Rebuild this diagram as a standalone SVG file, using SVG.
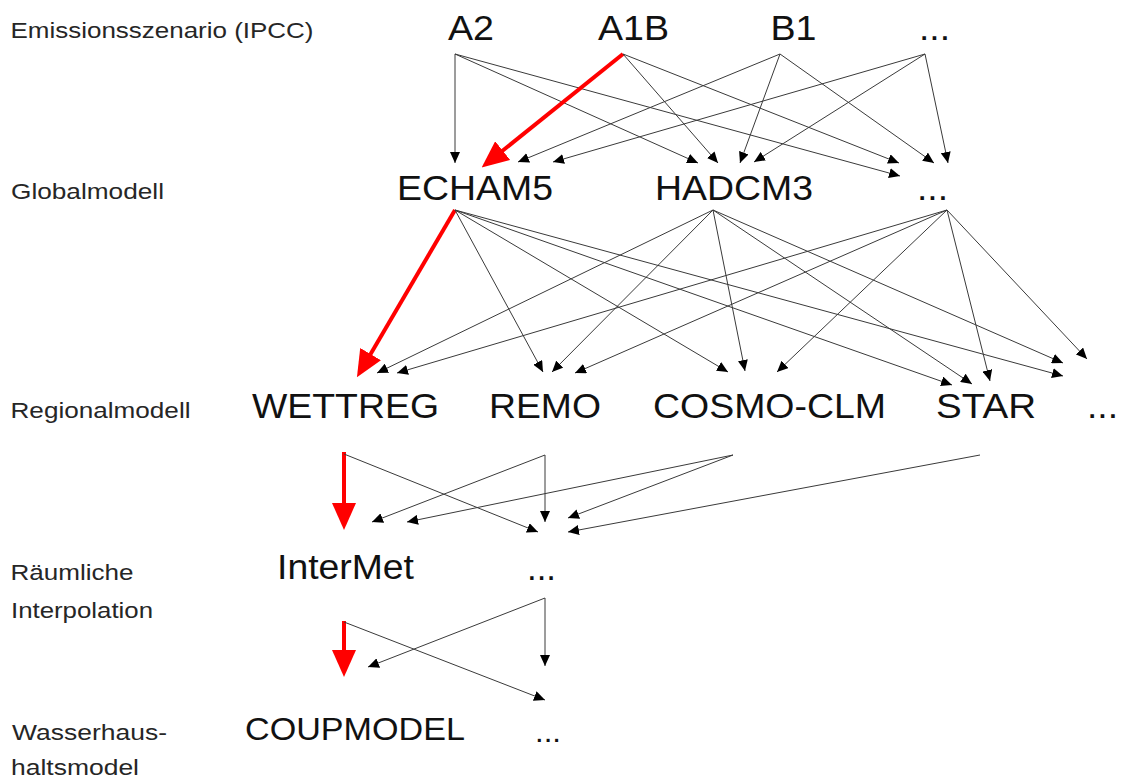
<svg xmlns="http://www.w3.org/2000/svg" width="1121" height="781" viewBox="0 0 1121 781">
<style>
.lbl{font-family:"Liberation Sans",Arial,sans-serif;font-size:22px;fill:#262626}
.nd{font-family:"Liberation Sans",Arial,sans-serif;font-size:35px;fill:#111}
.e{fill:none;stroke:#3a3a3a;stroke-width:1;marker-end:url(#ah)}
.r{fill:none;stroke:#ff0000;stroke-width:4;marker-end:url(#rh)}
</style>
<defs>
<marker id="ah" markerUnits="userSpaceOnUse" markerWidth="11" markerHeight="10" refX="11" refY="5" orient="auto" viewBox="0 0 11 10">
<path d="M0,0 L11,5 L0,10 z" fill="#000"/>
</marker>
<marker id="rh" markerUnits="userSpaceOnUse" markerWidth="27" markerHeight="24" refX="15" refY="12" orient="auto" viewBox="0 0 27 24">
<path d="M0,0 L27,12 L0,24 z" fill="#ff0000"/>
</marker>
</defs>
<rect width="1121" height="781" fill="#fff"/>

<g id="labels">
<text class="lbl" x="10.5" y="38" textLength="303" lengthAdjust="spacingAndGlyphs">Emissionsszenario (IPCC)</text>
<text class="lbl" x="11" y="199" textLength="153" lengthAdjust="spacingAndGlyphs">Globalmodell</text>
<text class="lbl" x="10.5" y="418" textLength="180" lengthAdjust="spacingAndGlyphs">Regionalmodell</text>
<text class="lbl" x="10.5" y="580" textLength="123" lengthAdjust="spacingAndGlyphs">Räumliche</text>
<text class="lbl" x="11" y="618" textLength="142" lengthAdjust="spacingAndGlyphs">Interpolation</text>
<text class="lbl" x="12" y="740" textLength="155" lengthAdjust="spacingAndGlyphs">Wasserhaus-</text>
<text class="lbl" x="11" y="775" textLength="128" lengthAdjust="spacingAndGlyphs">haltsmodel</text>
</g>

<g id="connectors">
<!-- emission scenarios to global models -->
<line class="e" x1="455" y1="54" x2="455" y2="163"/>
<line class="e" x1="455" y1="54" x2="698" y2="163"/>
<line class="e" x1="455" y1="54" x2="900" y2="176"/>
<line class="r" x1="623" y1="54" x2="491" y2="160"/>
<line class="e" x1="623" y1="54" x2="718" y2="163"/>
<line class="e" x1="623" y1="54" x2="899" y2="163"/>
<line class="e" x1="780" y1="54" x2="518" y2="162"/>
<line class="e" x1="780" y1="54" x2="740" y2="163"/>
<line class="e" x1="780" y1="54" x2="934" y2="163"/>
<line class="e" x1="925" y1="54" x2="553" y2="162"/>
<line class="e" x1="925" y1="54" x2="754" y2="162"/>
<line class="e" x1="925" y1="54" x2="948" y2="163"/>
<!-- global to regional -->
<line class="r" x1="455" y1="210" x2="363" y2="367"/>
<line class="e" x1="455" y1="210" x2="543" y2="372"/>
<line class="e" x1="455" y1="210" x2="728" y2="372"/>
<line class="e" x1="455" y1="210" x2="952" y2="385"/>
<line class="e" x1="455" y1="210" x2="1063" y2="376"/>
<line class="e" x1="713" y1="210" x2="377" y2="373"/>
<line class="e" x1="713" y1="210" x2="552" y2="372"/>
<line class="e" x1="713" y1="210" x2="745" y2="371"/>
<line class="e" x1="713" y1="210" x2="972" y2="384"/>
<line class="e" x1="713" y1="210" x2="1063" y2="363"/>
<line class="e" x1="947" y1="210" x2="397" y2="373"/>
<line class="e" x1="947" y1="210" x2="575" y2="373"/>
<line class="e" x1="947" y1="210" x2="777" y2="372"/>
<line class="e" x1="947" y1="210" x2="990" y2="381"/>
<line class="e" x1="947" y1="210" x2="1087" y2="359"/>
<!-- regional to interpolation -->
<line class="r" x1="344" y1="452" x2="344" y2="518"/>
<line class="e" x1="344" y1="454" x2="538" y2="532"/>
<line class="e" x1="545" y1="455" x2="545" y2="522"/>
<line class="e" x1="545" y1="455" x2="372" y2="522"/>
<line class="e" x1="733" y1="455" x2="407" y2="522"/>
<line class="e" x1="733" y1="455" x2="568" y2="518"/>
<line class="e" x1="980" y1="455" x2="568" y2="532"/>
<!-- interpolation to water balance -->
<line class="r" x1="344" y1="621" x2="344" y2="665"/>
<line class="e" x1="344" y1="622" x2="545" y2="700"/>
<line class="e" x1="545" y1="598" x2="545" y2="666"/>
<line class="e" x1="545" y1="598" x2="368" y2="667"/>
</g>

<g id="n-A2"><text class="nd" x="448" y="40" textLength="46" lengthAdjust="spacingAndGlyphs">A2</text></g>
<g id="n-A1B"><text class="nd" x="598" y="40" textLength="71" lengthAdjust="spacingAndGlyphs">A1B</text></g>
<g id="n-B1"><text class="nd" x="770.5" y="40" textLength="46" lengthAdjust="spacingAndGlyphs">B1</text></g>
<g id="n-scen-more"><text class="nd" x="919" y="40" textLength="31" lengthAdjust="spacingAndGlyphs">...</text></g>

<g id="n-ECHAM5"><text class="nd" x="397" y="200" textLength="156" lengthAdjust="spacingAndGlyphs">ECHAM5</text></g>
<g id="n-HADCM3"><text class="nd" x="655" y="200" textLength="158" lengthAdjust="spacingAndGlyphs">HADCM3</text></g>
<g id="n-glob-more"><text class="nd" x="917" y="200" textLength="31" lengthAdjust="spacingAndGlyphs">...</text></g>

<g id="n-WETTREG"><text class="nd" x="252" y="418" textLength="187" lengthAdjust="spacingAndGlyphs">WETTREG</text></g>
<g id="n-REMO"><text class="nd" x="489" y="418" textLength="112" lengthAdjust="spacingAndGlyphs">REMO</text></g>
<g id="n-COSMO-CLM"><text class="nd" x="653" y="418" textLength="233" lengthAdjust="spacingAndGlyphs">COSMO-CLM</text></g>
<g id="n-STAR"><text class="nd" x="936" y="418" textLength="100" lengthAdjust="spacingAndGlyphs">STAR</text></g>
<g id="n-reg-more"><text class="nd" x="1087" y="418" textLength="31" lengthAdjust="spacingAndGlyphs">...</text></g>

<g id="n-InterMet"><text class="nd" x="277" y="579" textLength="137" lengthAdjust="spacingAndGlyphs">InterMet</text></g>
<g id="n-interp-more"><text class="nd" x="527" y="580" textLength="29" lengthAdjust="spacingAndGlyphs">...</text></g>

<g id="n-COUPMODEL"><text class="nd" x="245" y="740" style="font-size:32px" textLength="220" lengthAdjust="spacingAndGlyphs">COUPMODEL</text></g>
<g id="n-water-more"><text class="nd" x="535" y="742" style="font-size:30px" textLength="26" lengthAdjust="spacingAndGlyphs">...</text></g>
</svg>
